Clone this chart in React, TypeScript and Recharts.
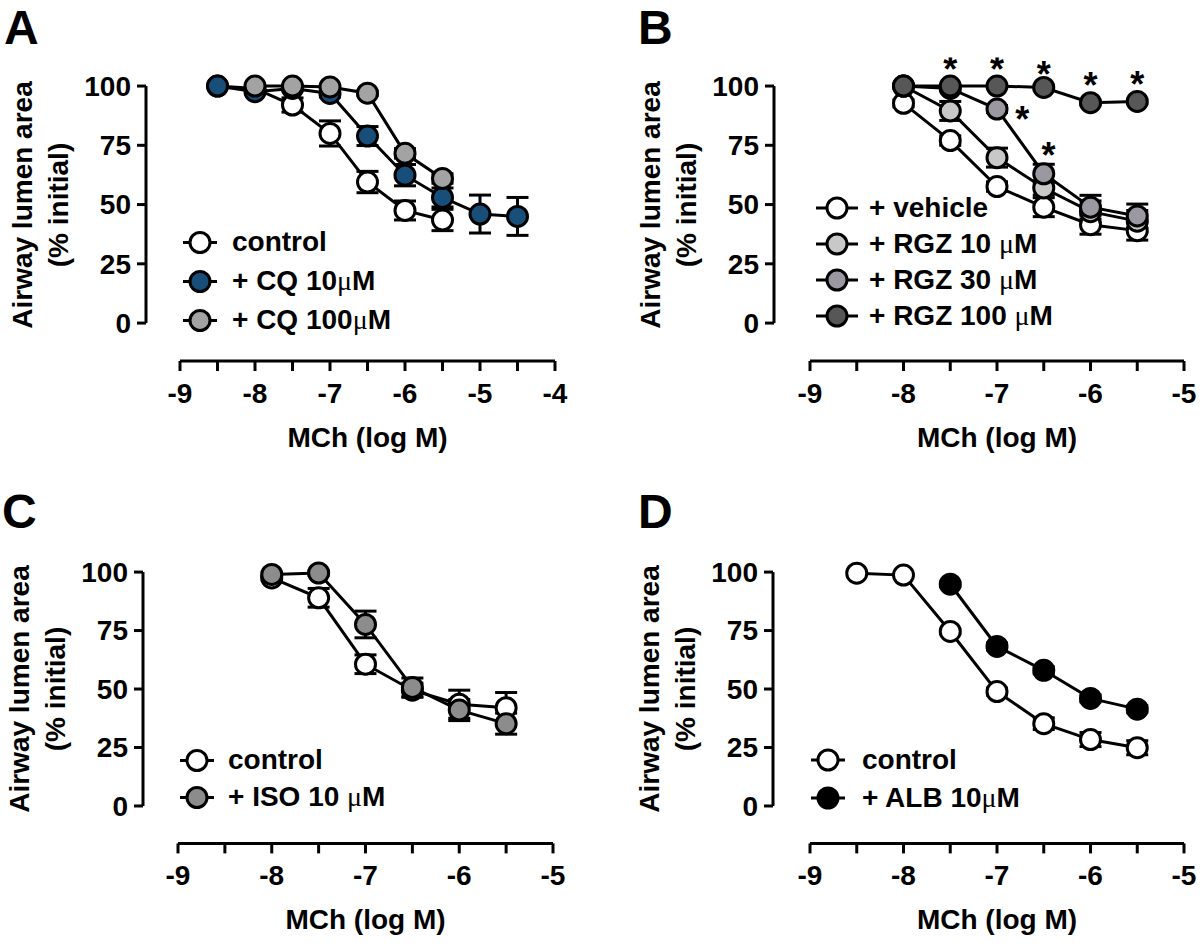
import React from 'react';
import {
  ComposedChart,
  Line,
  Scatter,
  XAxis,
  YAxis,
  ErrorBar,
  ReferenceLine,
  Legend,
} from 'recharts';

// [log M, % initial, SEM]
type Row = [number, number, number];

// A – chloroquine
const aControl: Row[] = [[-8.5, 100, 0], [-8, 99, 1], [-7.5, 92, 3], [-7, 80, 5.3], [-6.5, 59.5, 4.5], [-6, 47.5, 4], [-5.5, 43.5, 4.5]];
const aCq10: Row[] = [[-8.5, 100, 0], [-8, 97.6, 1], [-7.5, 99, 1], [-7, 96.9, 1.5], [-6.5, 78.9, 4], [-6, 62.4, 4.5], [-5.5, 53, 4], [-5, 46, 8], [-4.5, 45, 8]];
const aCq100: Row[] = [[-8, 100, 0], [-7.5, 100, 0], [-7, 99.6, 0], [-6.5, 97, 1], [-6, 71.6, 2], [-5.5, 61, 2]];

// B – rosiglitazone
const bVehicle: Row[] = [[-8, 92.7, 1.5], [-7.5, 77, 2], [-7, 57.6, 2], [-6.5, 48.9, 4], [-6, 41.5, 4], [-5.5, 39, 4]];
const bRgz10: Row[] = [[-8, 100, 0], [-7.5, 89.5, 4], [-7, 69.8, 4], [-6.5, 57, 3], [-6, 47, 4.5], [-5.5, 43, 4.5]];
const bRgz30: Row[] = [[-8, 100, 0], [-7.5, 99, 1], [-7, 90.3, 1.5], [-6.5, 63, 4], [-6, 48.9, 5], [-5.5, 45.2, 5]];
const bRgz100: Row[] = [[-8, 100, 0], [-7.5, 100, 0], [-7, 100, 0], [-6.5, 99.4, 1], [-6, 93, 1], [-5.5, 93.5, 1]];
const bStars: [number, number][] = [[-7.5, 110], [-7, 110], [-6.5, 108], [-6, 103.5], [-5.5, 104], [-6.73, 89], [-6.45, 74]];

// C – isoproterenol
const cControl: Row[] = [[-8, 97.5, 1], [-7.5, 89, 4], [-7, 60.6, 4], [-6.5, 49.5, 3], [-6, 43.5, 6], [-5.5, 42, 6.5]];
const cIso: Row[] = [[-8, 99, 1], [-7.5, 99.6, 1], [-7, 77.6, 5.7], [-6.5, 50.7, 4], [-6, 41, 4.5], [-5.5, 35.2, 4.5]];

// D – albuterol
const dControl: Row[] = [[-8.5, 99.5, 0], [-8, 98.7, 0], [-7.5, 74.6, 1], [-7, 48.9, 1.5], [-6.5, 35.2, 2.5], [-6, 28.4, 3], [-5.5, 24.9, 3]];
const dAlb: Row[] = [[-7.5, 94.8, 1], [-7, 68.2, 1.5], [-6.5, 58, 1.5], [-6, 46, 1.5], [-5.5, 41.4, 1.5]];

const yTicks = [0, 25, 50, 75, 100];
const xTicksA = [-9, -8.5, -8, -7.5, -7, -6.5, -6, -5.5, -5, -4.5, -4];
const xTicksB = [-9, -8.5, -8, -7.5, -7, -6.5, -6, -5.5, -5];

const FONT = '"Liberation Sans", Arial, Helvetica, sans-serif';

interface Series {
  name: string;
  fill: string;
  rows: Row[];
}

interface PanelProps {
  left: number;
  top: number;
  plotLeft: number;
  plotRight: number;
  plotTop: number;
  plotBottom: number;
  axisStartPx: number;
  xStart: number;
  xEnd: number;
  xTicks: number[];
  series: Series[];
  stars?: [number, number][];
  legend: { left: number; top: number; row: number; iconW: number; gap: number };
}

function renderName(name: string) {
  const i = name.indexOf('μ');
  if (i < 0) return name;
  return (
    <>
      {name.slice(0, i)}
      <span style={{ fontFamily: '"Liberation Serif", serif', fontWeight: 400 }}>μ</span>
      {name.slice(i + 1)}
    </>
  );
}

function Star(props: any) {
  const { cx, cy } = props;
  return (
    <text x={cx} y={cy + 20} textAnchor="middle" fontSize={36} fontWeight={700} fill="#000">
      *
    </text>
  );
}

function DosePanel(p: PanelProps) {
  const w = 600;
  const h = 475;
  const yAxisW = 60;
  const xAxisH = 95;
  const pxPerUnit = (p.plotRight - p.axisStartPx) / (p.xEnd - p.xStart);
  const xMin = p.xStart - (p.axisStartPx - p.plotLeft) / pxPerUnit;
  const margin = {
    top: p.plotTop - p.top,
    left: p.plotLeft - p.left - yAxisW,
    right: p.left + w - p.plotRight,
    bottom: p.top + h - p.plotBottom - xAxisH,
  };
  const tickStyle = { fill: '#000', fontSize: 28, fontWeight: 700, fontFamily: FONT };
  const axisLine = { stroke: '#000', strokeWidth: 3 };
  const lg = p.legend;

  const legendContent = () => (
    <div style={{ fontSize: 28, fontWeight: 700, fontFamily: FONT, color: '#000' }}>
      {p.series.map((s) => (
        <div key={s.name} style={{ display: 'flex', alignItems: 'center', height: lg.row, whiteSpace: 'nowrap' }}>
          <svg width={lg.iconW} height={lg.row}>
            <line x1={1} x2={lg.iconW - 1} y1={lg.row / 2} y2={lg.row / 2} stroke="#000" strokeWidth={3} />
            <circle cx={lg.iconW / 2} cy={lg.row / 2} r={10} fill={s.fill} stroke="#000" strokeWidth={3} />
          </svg>
          <span style={{ marginLeft: lg.gap }}>{renderName(s.name)}</span>
        </div>
      ))}
    </div>
  );

  return (
    <div style={{ position: 'absolute', left: p.left, top: p.top, width: w, height: h }}>
      <ComposedChart width={w} height={h} margin={margin}>
        <XAxis
          type="number"
          dataKey="x"
          domain={[xMin, p.xEnd]}
          allowDataOverflow
          ticks={p.xTicks}
          interval={0}
          tickFormatter={(v: number) => (Number.isInteger(v) ? String(v) : '')}
          axisLine={false}
          tickLine={axisLine}
          tickSize={10}
          tickMargin={12}
          tick={tickStyle}
          height={xAxisH}
        />
        <YAxis
          type="number"
          domain={[-16, 112]}
          allowDataOverflow
          ticks={yTicks}
          interval={0}
          axisLine={false}
          tickLine={axisLine}
          tickSize={9}
          tickMargin={6}
          tick={tickStyle}
          width={yAxisW}
        />
        <ReferenceLine
          segment={[{ x: xMin, y: 0 }, { x: xMin, y: 100 }]}
          stroke="#000"
          strokeWidth={3}
          ifOverflow="visible"
        />
        <ReferenceLine
          segment={[{ x: p.xStart, y: -16 }, { x: p.xEnd, y: -16 }]}
          stroke="#000"
          strokeWidth={3}
          ifOverflow="visible"
          label={{
            value: 'MCh (log M)',
            position: 'bottom',
            offset: 66,
            fill: '#000',
            fontSize: 28,
            fontWeight: 700,
            fontFamily: FONT,
          }}
        />
        {p.series.map((s) => (
          <Line
            key={s.name}
            data={s.rows.map(([x, y, e]) => ({ x, y, e }))}
            dataKey="y"
            name={s.name}
            type="linear"
            stroke="#000"
            strokeWidth={3}
            dot={{ r: 10, fill: s.fill, stroke: '#000', strokeWidth: 3 }}
            activeDot={false}
            isAnimationActive={false}
          >
            <ErrorBar dataKey="e" width={11} stroke="#000" strokeWidth={3} direction="y" />
          </Line>
        ))}
        {p.stars && (
          <Scatter
            data={p.stars.map(([x, y]) => ({ x, y }))}
            dataKey="y"
            shape={<Star />}
            legendType="none"
            isAnimationActive={false}
          />
        )}
        <Legend
          layout="vertical"
          align="center"
          verticalAlign="middle"
          wrapperStyle={{ left: lg.left - p.left, top: lg.top - p.top, width: 'auto', height: 'auto' }}
          content={legendContent}
        />
      </ComposedChart>
    </div>
  );
}

function YTitle({ cx, cy }: { cx: number; cy: number }) {
  const w = 320;
  const hgt = 72;
  return (
    <div
      style={{
        position: 'absolute',
        left: cx - w / 2,
        top: cy - hgt / 2,
        width: w,
        height: hgt,
        transform: 'rotate(-90deg)',
        textAlign: 'center',
        fontSize: 28,
        lineHeight: '36px',
        fontWeight: 700,
      }}
    >
      Airway lumen area
      <br />
      (% initial)
    </div>
  );
}

function Letter({ x, y, children }: { x: number; y: number; children: string }) {
  return (
    <div style={{ position: 'absolute', left: x, top: y, fontSize: 48, lineHeight: 'normal', fontWeight: 700 }}>
      {children}
    </div>
  );
}

export default function App() {
  return (
    <div
      style={{
        position: 'absolute',
        left: 0,
        top: 0,
        width: 1200,
        height: 950,
        background: '#fff',
        color: '#000',
        fontFamily: FONT,
        overflow: 'hidden',
      }}
    >
      <DosePanel
        left={0}
        top={0}
        plotLeft={146}
        plotRight={555}
        plotTop={57.6}
        plotBottom={361}
        axisStartPx={180}
        xStart={-9}
        xEnd={-4}
        xTicks={xTicksA}
        series={[
          { name: 'control', fill: '#ffffff', rows: aControl },
          { name: '+ CQ 10μM', fill: '#174e7a', rows: aCq10 },
          { name: '+ CQ 100μM', fill: '#a3a3a3', rows: aCq100 },
        ]}
        legend={{ left: 182, top: 222.5, row: 39, iconW: 36, gap: 14 }}
      />
      <DosePanel
        left={600}
        top={0}
        plotLeft={774}
        plotRight={1184}
        plotTop={57.6}
        plotBottom={361}
        axisStartPx={810}
        xStart={-9}
        xEnd={-5}
        xTicks={xTicksB}
        series={[
          { name: '+ vehicle', fill: '#ffffff', rows: bVehicle },
          { name: '+ RGZ 10 μM', fill: '#c8c8c8', rows: bRgz10 },
          { name: '+ RGZ 30 μM', fill: '#9c98a2', rows: bRgz30 },
          { name: '+ RGZ 100 μM', fill: '#575757', rows: bRgz100 },
        ]}
        stars={bStars}
        legend={{ left: 815, top: 190, row: 36, iconW: 44, gap: 10 }}
      />
      <DosePanel
        left={0}
        top={475}
        plotLeft={143}
        plotRight={553}
        plotTop={544}
        plotBottom={843.4}
        axisStartPx={178}
        xStart={-9}
        xEnd={-5}
        xTicks={xTicksB}
        series={[
          { name: 'control', fill: '#ffffff', rows: cControl },
          { name: '+ ISO 10 μM', fill: '#8c8c8c', rows: cIso },
        ]}
        legend={{ left: 179, top: 741.5, row: 37, iconW: 36, gap: 13 }}
      />
      <DosePanel
        left={600}
        top={475}
        plotLeft={773}
        plotRight={1184}
        plotTop={544}
        plotBottom={843.4}
        axisStartPx={810}
        xStart={-9}
        xEnd={-5}
        xTicks={xTicksB}
        series={[
          { name: 'control', fill: '#ffffff', rows: dControl },
          { name: '+ ALB 10μM', fill: '#000000', rows: dAlb },
        ]}
        legend={{ left: 810, top: 741, row: 38, iconW: 36, gap: 16 }}
      />
      <YTitle cx={41} cy={204.5} />
      <YTitle cx={669} cy={204.5} />
      <YTitle cx={38} cy={689} />
      <YTitle cx={668} cy={689} />
      <Letter x={4} y={0}>A</Letter>
      <Letter x={638} y={0}>B</Letter>
      <Letter x={2} y={484}>C</Letter>
      <Letter x={638} y={484}>D</Letter>
    </div>
  );
}
